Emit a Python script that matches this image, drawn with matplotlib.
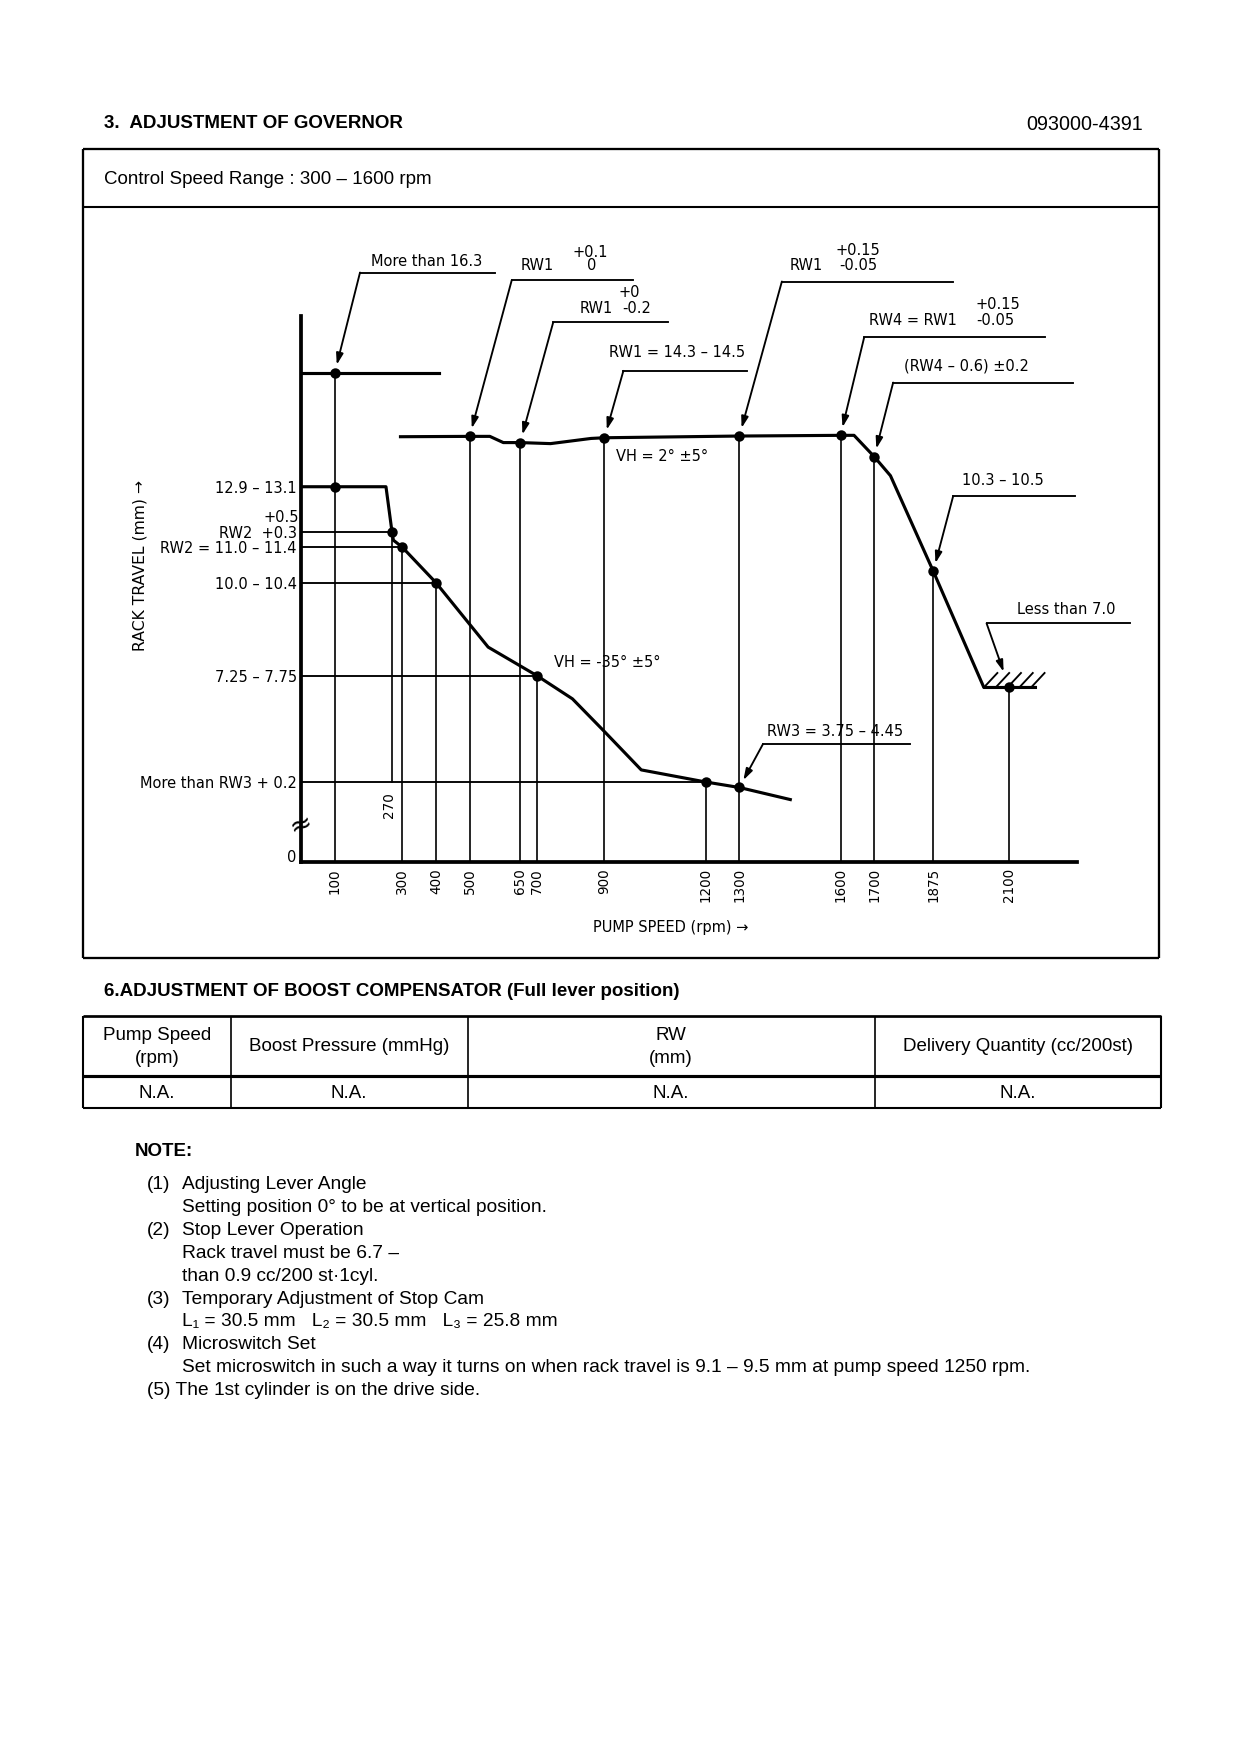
import matplotlib
matplotlib.use("Agg")
import matplotlib.pyplot as plt
from matplotlib.lines import Line2D
from matplotlib.patches import ArrowStyle
import matplotlib.transforms as mtrans

W, H, DPI = 1240, 1754, 150

# ---------------- data (rack travel schematic) ----------------
upper_rpm = [295, 500, 560, 600, 650, 740, 860, 900, 1300, 1600, 1640, 1700, 1748, 1875, 2025, 2178]
upper_mm = [14.45, 14.46, 14.46, 14.28, 14.28, 14.25, 14.40, 14.42, 14.47, 14.49, 14.49, 13.87, 13.32, 10.55, 7.18, 7.18]

lower_rpm = [0, 252, 270, 274, 300, 400, 555, 700, 805, 900, 1009, 1200, 1300, 1451]
lower_mm = [13.0, 13.0, 11.68, 11.45, 11.25, 10.22, 8.35, 7.52, 6.85, 5.90, 4.79, 4.44, 4.28, 3.93]

idle_rpm = [0, 408]
idle_mm = [16.3, 16.3]

point_rpm = [100, 100, 270, 300, 400, 700, 1200, 1300, 500, 650, 900, 1300, 1600, 1700, 1875, 2100]
point_mm = [16.3, 13.0, 11.68, 11.25, 10.22, 7.52, 4.44, 4.28, 14.46, 14.28, 14.42, 14.47, 14.49, 13.87, 10.55, 7.18]

guide_v_rpm = [100, 300, 400, 500, 650, 700, 900, 1200, 1300, 1600, 1700, 1875, 2100]
guide_v_top = [16.3, 11.25, 10.22, 14.46, 14.28, 7.52, 14.42, 4.44, 14.47, 14.49, 13.87, 10.55, 7.18]
guide_270_rpm = [270, 270]
guide_270_mm = [4.44, 11.68]

guide_h_mm = [11.68, 11.25, 10.22, 7.52, 4.44]
guide_h_end = [270, 300, 400, 700, 1200]

xtick_rpm = [100, 300, 400, 500, 650, 700, 900, 1200, 1300, 1600, 1700, 1875, 2100]
xtick_labels = ["100", "300", "400", "500", "650", "700", "900", "1200", "1300", "1600", "1700", "1875", "2100"]

ytick_mm = [13.0, 11.68, 11.25, 10.22, 7.52, 4.44, 2.3]
ytick_labels = ["12.9 – 13.1", "RW2  +0.3", "RW2 = 11.0 – 11.4", "10.0 – 10.4",
                "7.25 – 7.75", "More than RW3 + 0.2", "0"]

stop_mm = 7.18
hatch_rpm = [2025, 2060, 2095, 2130, 2165]

table_header = ["Pump Speed\n(rpm)", "Boost Pressure (mmHg)", "RW\n(mm)", "Delivery Quantity (cc/200st)"]
table_row = ["N.A.", "N.A.", "N.A.", "N.A."]

notes = [
    ("(1)", "Adjusting Lever Angle"),
    ("", "Setting position 0° to be at vertical position."),
    ("(2)", "Stop Lever Operation"),
    ("", "Rack travel must be 6.7 –"),
    ("", "than 0.9 cc/200 st·1cyl."),
    ("(3)", "Temporary Adjustment of Stop Cam"),
    ("", "L₁ = 30.5 mm   L₂ = 30.5 mm   L₃ = 25.8 mm"),
    ("(4)", "Microswitch Set"),
    ("", "Set microswitch in such a way it turns on when rack travel is 9.1 – 9.5 mm at pump speed 1250 rpm."),
    ("(5)", "The 1st cylinder is on the drive side."),
]

# annotations: tip (data), elbow (data), end of shelf (rpm), texts
annotations = [
    dict(tip=(100, 16.3), elbow=(175, 19.21), end=575,
         texts=[("More than 16.3", 374, 19.52, "center")]),
    dict(tip=(500, 14.46), elbow=(625, 18.99), end=985,
         texts=[("RW1", 700, 19.40, "center"), ("+0.1", 857, 19.78, "center"), ("0", 862, 19.40, "center")]),
    dict(tip=(650, 14.28), elbow=(748, 17.77), end=1089,
         texts=[("+0", 973, 18.62, "center"), ("RW1", 875, 18.18, "center"), ("-0.2", 996, 18.18, "center")]),
    dict(tip=(900, 14.42), elbow=(956, 16.36), end=1322,
         texts=[("RW1 = 14.3 – 14.5", 1115, 16.88, "center")]),
    dict(tip=(1300, 14.47), elbow=(1426, 18.95), end=1934,
         texts=[("RW1", 1498, 19.40, "center"), ("+0.15", 1652, 19.85, "center"), ("-0.05", 1652, 19.40, "center")]),
    dict(tip=(1600, 14.49), elbow=(1670, 17.33), end=2206,
         texts=[("RW4 = RW1", 1815, 17.81, "center"), ("+0.15", 2066, 18.27, "center"), ("-0.05", 2060, 17.81, "center")]),
    dict(tip=(1700, 13.87), elbow=(1756, 16.02), end=2290,
         texts=[("(RW4 – 0.6) ±0.2", 1972, 16.50, "center")]),
    dict(tip=(1875, 10.55), elbow=(1934, 12.73), end=2295,
         texts=[("10.3 – 10.5", 2080, 13.17, "center")]),
    dict(tip=(2100, 7.18), elbow=(2033, 9.04), end=2458, gap=8,
         texts=[("Less than 7.0", 2269, 9.43, "center")]),
    dict(tip=(1300, 4.28), elbow=(1370, 5.54), end=1806,
         texts=[("RW3 = 3.75 – 4.45", 1584, 5.89, "center")]),
]

free_texts = [("VH = 2° ±5°", 934, 13.89), ("VH = -35° ±5°", 749, 7.89)]

# ---------------- figure ----------------
fig = plt.figure(figsize=(W / DPI, H / DPI), dpi=DPI)
fig.patch.set_facecolor("white")
DOC = ["Liberation Sans", "DejaVu Sans"]
CH = ["DejaVu Sans"]


def fx(x):
    return x / W


def fy(y):
    return 1 - y / H


def fline(x0, y0, x1, y1, lw=1.0):
    fig.add_artist(Line2D([fx(x0), fx(x1)], [fy(y0), fy(y1)], transform=fig.transFigure,
                          color="black", lw=lw, solid_capstyle="butt"))


# header
fig.text(fx(104), fy(124), "3.  ADJUSTMENT OF GOVERNOR", fontsize=9, fontweight="bold",
         family=DOC, ha="left", va="center")
fig.text(fx(1143), fy(124), "093000-4391", fontsize=9.5, family=DOC, ha="right", va="center")

# frame
fline(83, 149, 1159, 149, 1.1)
fline(83, 958, 1159, 958, 1.1)
fline(83, 149, 83, 958, 1.1)
fline(1159, 149, 1159, 958, 1.1)
fline(83, 207, 1159, 207, 1.0)
fig.text(fx(104), fy(179), "Control Speed Range : 300 – 1600 rpm", fontsize=9, family=DOC,
         ha="left", va="center")

# ---------------- chart axes ----------------
ax_l, ax_r, ax_t, ax_b = 301, 1076.6, 316, 862
ax = fig.add_axes([fx(ax_l), fy(ax_b), (ax_r - ax_l) / W, (ax_b - ax_t) / H])
ax.set_xlim(0, 2300)
ax.set_ylim(2.12, 17.95)
ax.set_facecolor("none")
for s in ["top", "right"]:
    ax.spines[s].set_visible(False)
for s in ["left", "bottom"]:
    ax.spines[s].set_linewidth(1.8)

ybot = ax.get_ylim()[0]

# guides
ax.vlines(guide_v_rpm, ybot, guide_v_top, colors="black", lw=0.8, zorder=2)
ax.plot(guide_270_rpm, guide_270_mm, color="black", lw=0.8, zorder=2)
ax.hlines(guide_h_mm, 0, guide_h_end, colors="black", lw=0.9, zorder=2)

# curves
ax.plot(idle_rpm, idle_mm, color="black", lw=1.5, zorder=3, solid_joinstyle="miter")
ax.plot(lower_rpm, lower_mm, color="black", lw=1.5, zorder=3)
ax.plot(upper_rpm, upper_mm, color="black", lw=1.5, zorder=3)
ax.plot(point_rpm, point_mm, "o", color="black", ms=4, zorder=4)

# stop hatch
for hx in hatch_rpm:
    ax.plot([hx, hx + 40], [stop_mm, stop_mm + 0.42], color="black", lw=0.9, zorder=3)

# ticks
ax.set_xticks(xtick_rpm, xtick_labels, rotation=90, fontsize=6.5, family=CH)
ax.tick_params(axis="x", length=0, pad=3)
ax.set_yticks(ytick_mm, ytick_labels, fontsize=7, family=CH)
ax.tick_params(axis="y", length=0, pad=2)

blend = mtrans.blended_transform_factory(ax.transAxes, ax.transData)
ax.text(-0.003, 12.12, "+0.5", transform=blend, fontsize=7, family=CH, ha="right", va="center")
ax.text(261, 4.15, "270", rotation=90, fontsize=6.5, family=CH, ha="center", va="top")
ax.text(0, 3.19, "≈", fontsize=13, family=CH, ha="center", va="center", rotation=20)

ax.text(-0.2076, 0.544, "RACK TRAVEL (mm) →", transform=ax.transAxes, rotation=90,
        fontsize=7.5, family=CH, ha="center", va="center")
ax.text(0.477, -0.12, "PUMP SPEED (rpm) →", transform=ax.transAxes,
        fontsize=7, family=CH, ha="center", va="center")

# annotations
astyle = ArrowStyle("-|>", head_length=0.45, head_width=0.14)
for a in annotations:
    ex, ey = a["elbow"]
    ax.plot([ex, a["end"]], [ey, ey], color="black", lw=0.9, clip_on=False, zorder=3)
    ax.annotate("", xy=a["tip"], xytext=(ex, ey), annotation_clip=False,
                arrowprops=dict(arrowstyle=astyle, color="black", lw=0.9,
                                shrinkA=0, shrinkB=a.get("gap", 4), mutation_scale=10))
    for s, tx, ty, ha in a["texts"]:
        ax.text(tx, ty, s, fontsize=7, family=CH, ha=ha, va="center", clip_on=False)

for s, tx, ty in free_texts:
    ax.text(tx, ty, s, fontsize=7, family=CH, ha="left", va="center")

# ---------------- boost compensator table ----------------
fig.text(fx(104), fy(991), "6.ADJUSTMENT OF BOOST COMPENSATOR (Full lever position)", fontsize=9,
         fontweight="bold", family=DOC, ha="left", va="center")

col_x = [83, 230.5, 467.5, 874.7, 1161]
row_y = [1015.6, 1076, 1108.4]
fline(col_x[0], row_y[0], col_x[-1], row_y[0], 1.3)
fline(col_x[0], row_y[1], col_x[-1], row_y[1], 1.5)
fline(col_x[0], row_y[2], col_x[-1], row_y[2], 1.0)
for i, cx in enumerate(col_x):
    fline(cx, row_y[0], cx, row_y[2], 1.0 if i in (0, len(col_x) - 1) else 0.8)
for i, (h, v) in enumerate(zip(table_header, table_row)):
    cx = (col_x[i] + col_x[i + 1]) / 2
    fig.text(fx(cx), fy((row_y[0] + row_y[1]) / 2 + 1), h, fontsize=9, family=DOC,
             ha="center", va="center", linespacing=1.45)
    fig.text(fx(cx), fy((row_y[1] + row_y[2]) / 2 + 1), v, fontsize=9, family=DOC,
             ha="center", va="center")

# ---------------- notes ----------------
fig.text(fx(135), fy(1152), "NOTE:", fontsize=9, fontweight="bold", family=DOC, ha="left", va="center")
note_y0, note_dy = 1184.5, 22.9
for i, (num, txt) in enumerate(notes):
    y = note_y0 + i * note_dy
    if num == "(5)":
        fig.text(fx(146.5), fy(y), num + " " + txt, fontsize=9.2, family=DOC, ha="left", va="center")
    else:
        if num:
            fig.text(fx(146.5), fy(y), num, fontsize=9.2, family=DOC, ha="left", va="center")
        fig.text(fx(182.3), fy(y), txt, fontsize=9.2, family=DOC, ha="left", va="center")

fig.savefig("out.png", dpi=DPI)
